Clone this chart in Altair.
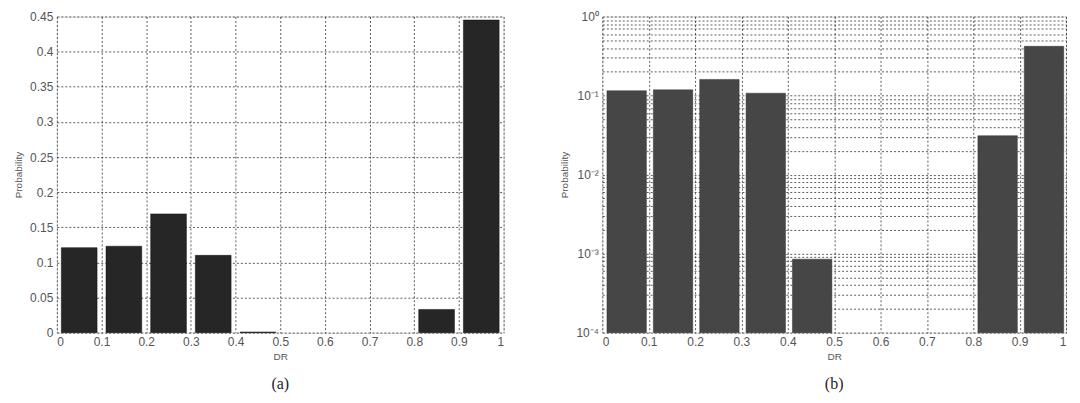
import altair as alt
import pandas as pd

bin_start = [0.0, 0.1, 0.2, 0.3, 0.4, 0.5, 0.6, 0.7, 0.8, 0.9]
prob_lin = [0.121, 0.123, 0.169, 0.110, 0.0009, 0.0, 0.0, 0.0, 0.033, 0.445]
prob_log = [0.115, 0.118, 0.160, 0.107, 0.00085, None, None, None, 0.031, 0.42]
x_ticks = [0, 0.1, 0.2, 0.3, 0.4, 0.5, 0.6, 0.7, 0.8, 0.9, 1]
y_ticks_lin = [0, 0.05, 0.1, 0.15, 0.2, 0.25, 0.3, 0.35, 0.4, 0.45]
log_grid = [m * d for d in [1e-4, 1e-3, 1e-2, 1e-1] for m in range(1, 10)] + [1]

df_a = pd.DataFrame({"x0": [b + 0.01 for b in bin_start],
                     "x1": [b + 0.09 for b in bin_start],
                     "p": prob_lin})
df_a = df_a[df_a["p"] > 0]
df_b = pd.DataFrame({"x0": [b + 0.01 for b in bin_start],
                     "x1": [b + 0.095 for b in bin_start],
                     "p": prob_log}).dropna()

axis_common = dict(
    labelFont="Liberation Sans", labelFontSize=12, labelColor="#555",
    titleFont="Liberation Sans", titleFontSize=10, titleFontWeight="normal", titleColor="#555",
    grid=True, gridDash=[2, 2], gridColor="#333", gridOpacity=0.8,
    domain=False, ticks=False, labelPadding=4,
)

H = 317
xa = alt.X("x0:Q", scale=alt.Scale(domain=[0, 1], nice=False),
           axis=alt.Axis(values=x_ticks, format="~g", title="DR", **axis_common))
panel_a = alt.Chart(df_a).mark_bar(color="#262626", stroke="#111", strokeWidth=0.5).encode(
    x=xa, x2="x1:Q",
    y=alt.Y("p:Q", scale=alt.Scale(domain=[0, 0.45], nice=False),
            axis=alt.Axis(values=y_ticks_lin, format="~g", title="Probability",
                          titlePadding=6, **axis_common)),
    y2=alt.value(H),
).properties(width=448, height=H,
             title=alt.TitleParams("(a)", orient="bottom", font="Liberation Serif",
                                   fontSize=16, fontWeight="normal", color="#222", offset=15))

label_expr = ("datum.value==1 ? '10⁰' : abs(datum.value-0.1)<1e-9 ? '10⁻¹' : "
              "abs(datum.value-0.01)<1e-9 ? '10⁻²' : abs(datum.value-0.001)<1e-10 ? '10⁻³' : "
              "abs(datum.value-0.0001)<1e-11 ? '10⁻⁴' : ''")
xb = alt.X("x0:Q", scale=alt.Scale(domain=[0, 1], nice=False),
           axis=alt.Axis(values=x_ticks, format="~g", title="DR", **axis_common))
panel_b = alt.Chart(df_b).mark_bar(color="#464646", stroke="#333", strokeWidth=0.5).encode(
    x=xb, x2="x1:Q",
    y=alt.Y("p:Q", scale=alt.Scale(type="log", domain=[1e-4, 1], nice=False),
            axis=alt.Axis(values=log_grid, labelExpr=label_expr, title="Probability",
                          titlePadding=6, **axis_common)),
    y2=alt.value(H),
).properties(width=465, height=H,
             title=alt.TitleParams("(b)", orient="bottom", font="Liberation Serif",
                                   fontSize=16, fontWeight="normal", color="#222", offset=15))

chart = alt.hconcat(panel_a, panel_b, spacing=54).properties(
    padding={"top": 1, "left": 5, "right": 5, "bottom": 5}
).configure_view(
    stroke="#555", strokeWidth=1
).configure(background="white")

chart.save("out.html", embed_options={"renderer": "svg", "actions": False})
